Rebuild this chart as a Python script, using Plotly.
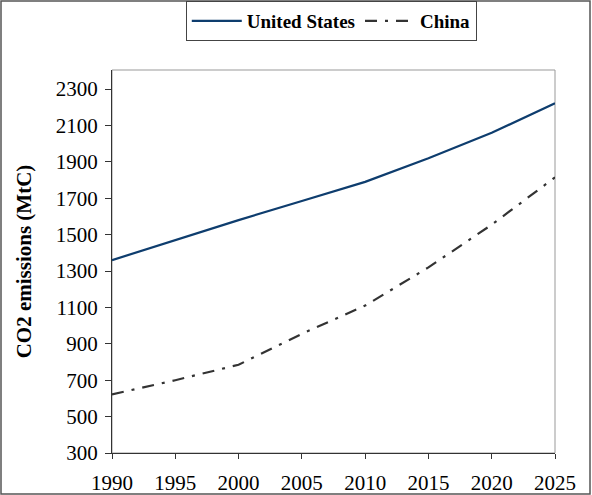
import plotly.graph_objects as go

years = [1990, 1995, 2000, 2005, 2010, 2015, 2020, 2025]
us = [1360, 1470, 1580, 1685, 1790, 1920, 2060, 2222]
china = [622, 700, 785, 955, 1110, 1320, 1555, 1815]
yticks = [300, 500, 700, 900, 1100, 1300, 1500, 1700, 1900, 2100, 2300]

W, H = 592, 495
ml, mr, mt, mb = 112, 37, 70, 42
pw, ph = W - ml - mr, H - mt - mb

fig = go.Figure()
fig.add_trace(go.Scatter(x=years, y=us, mode="lines", name="United States",
                         line=dict(color="#0e3d6e", width=2.2)))
fig.add_trace(go.Scatter(x=years, y=china, mode="lines", name="China",
                         line=dict(color="#333333", width=2.2, dash="12px,8px,3px,8px")))

font = "Liberation Serif"
fig.update_layout(
    width=W, height=H,
    margin=dict(l=ml, r=mr, t=mt, b=mb, autoexpand=False),
    paper_bgcolor="white", plot_bgcolor="white",
    font=dict(family=font, size=21, color="black"),
    showlegend=True,
    legend=dict(orientation="h", x=0.495, xanchor="center", y=1 + (mt - 1) / ph, yanchor="top",
                bordercolor="#444", borderwidth=1, bgcolor="white",
                font=dict(family=font, size=19, color="black", weight="bold"),
                itemwidth=50, tracegroupgap=0),
    xaxis=dict(range=[1990, 2025], tickvals=years, showgrid=False, zeroline=False,
               showline=True, linecolor="#333", linewidth=1, ticks="outside", ticklen=5,
               tickcolor="#333", tickfont=dict(family=font, size=21), ticklabelstandoff=6,
               automargin=False),
    yaxis=dict(range=[300, 2405], tickvals=yticks, showgrid=False, zeroline=False,
               showline=True, linecolor="#333", linewidth=1, ticks="outside", ticklen=6,
               tickcolor="#333", tickfont=dict(family=font, size=21), ticklabelstandoff=3,
               automargin=False,
               title=dict(text="<b>CO2 emissions (MtC)</b>", font=dict(family=font, size=21), standoff=18)),
    shapes=[
        dict(type="rect", xref="paper", yref="paper", x0=0, x1=1, y0=0, y1=1,
             line=dict(color="#999", width=1), layer="below"),
        dict(type="rect", xref="paper", yref="paper",
             x0=-(ml - 1) / pw, x1=1 + (mr - 2) / pw, y0=-(mb - 1) / ph, y1=1 + (mt - 1) / ph,
             line=dict(color="#555", width=1.5)),
    ],
)
fig.write_html("out.html")
